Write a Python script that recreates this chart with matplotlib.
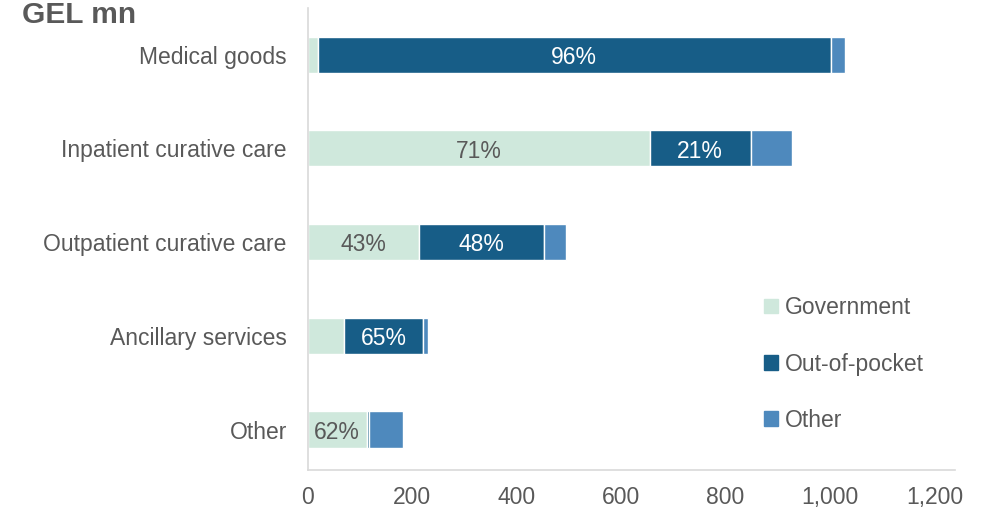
import matplotlib.pyplot as plt
from matplotlib.patches import Patch

plt.rcParams['font.family'] = ['Liberation Sans', 'DejaVu Sans']

# data (GEL mn), top to bottom
categories = ["Medical goods", "Inpatient curative care", "Outpatient curative care",
              "Ancillary services", "Other"]
government = [19, 655, 213, 70, 113]
out_of_pocket = [982, 193, 239, 150, 5]
other = [27, 80, 43, 10, 64]

gov_labels = ["", "71%", "43%", "", "62%"]
oop_labels = ["96%", "21%", "48%", "65%", ""]

c_gov = "#CFE8DC"
c_oop = "#175D87"
c_oth = "#4E89BD"
grey = "#595959"
fs = 16.5

fig = plt.figure(figsize=(9.86, 5.18), dpi=100)
ax = fig.add_axes([0.312, 0.093, 0.657, 0.892])

n = len(categories)
ypos = list(range(n - 1, -1, -1))
h = 0.385

left_oop = government
left_oth = [g + o for g, o in zip(government, out_of_pocket)]

bg = ax.barh(ypos, government, height=h, color=c_gov, edgecolor="white", linewidth=1)
bo = ax.barh(ypos, out_of_pocket, left=left_oop, height=h, color=c_oop, edgecolor="white", linewidth=1)
bt = ax.barh(ypos, other, left=left_oth, height=h, color=c_oth, edgecolor="white", linewidth=1)

# labels a touch lower, like the original
for cont, labs, col in [(bg, gov_labels, grey), (bo, oop_labels, "white")]:
    for rect, lab in zip(cont, labs):
        if lab:
            ax.text(rect.get_x() + rect.get_width() / 2, rect.get_y() + rect.get_height() / 2 - 0.03,
                    lab, ha="center", va="center", color=col, fontsize=fs)

ax.set_xlim(0, 1240)
ax.set_ylim(-0.43, n - 0.5)
ax.set_xticks([0, 200, 400, 600, 800, 1000, 1200])
ax.set_xticklabels(["0", "200", "400", "600", "800", "1,000", "1,200"])
ax.set_yticks(ypos)
ax.set_yticklabels(categories)
ax.tick_params(axis="both", length=0, labelsize=fs, labelcolor=grey)
ax.tick_params(axis="y", pad=15)
ax.tick_params(axis="x", pad=12)

for s in ["top", "right"]:
    ax.spines[s].set_visible(False)
for s in ["left", "bottom"]:
    ax.spines[s].set_color("#D9D9D9")
    ax.spines[s].set_linewidth(1.2)

fig.text(0.022, 0.999, "GEL mn", fontsize=21.5, fontweight="bold", color=grey, va="top", ha="left")

handles = [Patch(color=c_gov), Patch(color=c_oop), Patch(color=c_oth)]
fig.legend(handles, ["Government", "Out-of-pocket", "Other"], loc="upper left",
           bbox_to_anchor=(0.775, 0.428), frameon=False, fontsize=fs,
           labelcolor=grey, handlelength=0.6, handleheight=0.6, handletextpad=0.3,
           labelspacing=1.45, borderaxespad=0, borderpad=0)

fig.savefig("out.png", dpi=100)
